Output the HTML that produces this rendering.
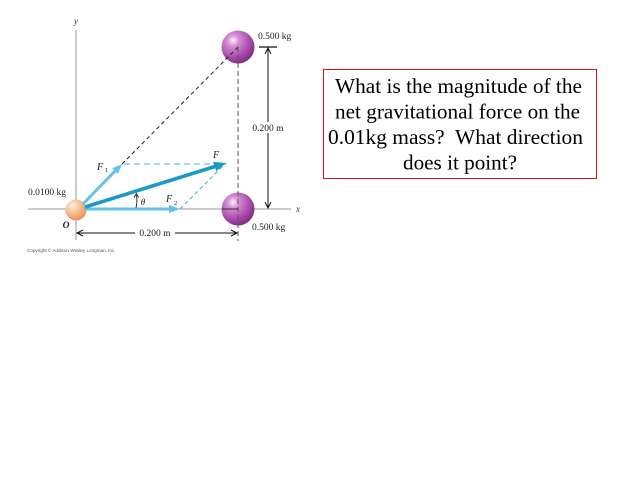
<!DOCTYPE html>
<html><head><meta charset="utf-8"><style>
html,body{margin:0;padding:0;background:#fff;}
svg{display:block;}
</style></head><body>
<svg width="640" height="480" viewBox="0 0 640 480" xmlns="http://www.w3.org/2000/svg">
<defs>
<radialGradient id="pur" cx="0.35" cy="0.3" r="0.75">
<stop offset="0" stop-color="#fbeefa"/>
<stop offset="0.25" stop-color="#d58ad4"/>
<stop offset="0.7" stop-color="#a448a6"/>
<stop offset="1" stop-color="#7d2a80"/>
</radialGradient>
<radialGradient id="org" cx="0.35" cy="0.3" r="0.75">
<stop offset="0" stop-color="#fff3e8"/>
<stop offset="0.35" stop-color="#fbc9a2"/>
<stop offset="1" stop-color="#e88f56"/>
</radialGradient>
</defs>
<rect width="640" height="480" fill="#fff"/>

<!-- axes -->
<line x1="76" y1="30" x2="76" y2="240" stroke="#999" stroke-width="1"/>
<line x1="28" y1="209" x2="291" y2="209" stroke="#999" stroke-width="1"/>
<text x="76" y="24" font-family="Liberation Serif, serif" font-style="italic" font-size="9" fill="#333" text-anchor="middle">y</text>
<text x="298" y="212" font-family="Liberation Serif, serif" font-style="italic" font-size="9" fill="#333" text-anchor="middle">x</text>

<!-- purple balls -->
<circle cx="238" cy="47" r="16.5" fill="url(#pur)"/>
<circle cx="238" cy="209" r="16.5" fill="url(#pur)"/>

<!-- black dashed lines -->
<line x1="122" y1="164" x2="238" y2="47" stroke="#222" stroke-width="1" stroke-dasharray="4,3"/>
<line x1="238" y1="47" x2="238" y2="241" stroke="#555" stroke-width="1" stroke-dasharray="5,3"/>
<line x1="222" y1="209" x2="238" y2="209" stroke="#333" stroke-width="1"/>

<!-- light blue dashed -->
<line x1="124" y1="164" x2="226" y2="164" stroke="#6cc3e3" stroke-width="1.2" stroke-dasharray="6,4"/>
<line x1="180" y1="209" x2="226" y2="163" stroke="#3aaed8" stroke-width="1" stroke-dasharray="4,3"/>

<!-- vertical dimension -->
<line x1="259" y1="47" x2="277" y2="47" stroke="#111" stroke-width="1.3"/>
<line x1="268" y1="48" x2="268" y2="208" stroke="#111" stroke-width="1"/>
<polyline points="265,54 268,48 271,54" fill="none" stroke="#111" stroke-width="1"/>
<polyline points="265,202 268,208 271,202" fill="none" stroke="#111" stroke-width="1"/>
<rect x="250" y="122" width="36" height="11" fill="#fff"/>
<text x="268" y="131" font-family="Liberation Serif, serif" font-size="9.5" fill="#222" text-anchor="middle">0.200 m</text>

<!-- horizontal dimension -->
<line x1="77" y1="233" x2="237" y2="233" stroke="#111" stroke-width="1"/>
<polyline points="83,230 77,233 83,236" fill="none" stroke="#111" stroke-width="1"/>
<polyline points="231,230 237,233 231,236" fill="none" stroke="#111" stroke-width="1"/>
<rect x="135" y="227" width="40" height="11" fill="#fff"/>
<text x="155" y="236" font-family="Liberation Serif, serif" font-size="9.5" fill="#222" text-anchor="middle">0.200 m</text>

<!-- orange ball -->
<circle cx="76" cy="210" r="10.5" fill="url(#org)"/>

<!-- F2 -->
<line x1="85" y1="209" x2="171" y2="209" stroke="#66c2e4" stroke-width="3"/>
<polygon points="180,209 169,205 169,213" fill="#66c2e4"/>
<!-- F1 -->
<line x1="83" y1="204" x2="116" y2="170" stroke="#66c2e4" stroke-width="3"/>
<polygon points="122,164 117.9,174 112.1,168.4" fill="#66c2e4"/>
<!-- F -->
<line x1="85" y1="207" x2="215" y2="166.5" stroke="#1b9ac8" stroke-width="3.6"/>
<polygon points="226,163 216.3,171.2 213,161.9" fill="#1b9ac8"/>

<!-- theta arc -->
<path d="M136,208 Q137.5,201 136.5,195" fill="none" stroke="#222" stroke-width="0.9"/>
<polyline points="134,197.5 136.3,193.5 138.6,197.5" fill="none" stroke="#222" stroke-width="0.9"/>
<text x="143" y="205" font-family="Liberation Serif, serif" font-style="italic" font-size="9" fill="#222" text-anchor="middle">θ</text>

<!-- labels -->
<text x="100" y="170" font-family="Liberation Serif, serif" font-style="italic" font-size="10" fill="#222" text-anchor="middle">F</text>
<text x="105" y="172" font-family="Liberation Serif, serif" font-size="6.5" fill="#222">1</text>
<text x="216" y="158" font-family="Liberation Serif, serif" font-style="italic" font-size="10" fill="#222" text-anchor="middle">F</text>
<text x="169" y="202" font-family="Liberation Serif, serif" font-style="italic" font-size="10" fill="#222" text-anchor="middle">F</text>
<text x="174" y="205" font-family="Liberation Serif, serif" font-size="6.5" fill="#222">2</text>
<text x="258" y="39" font-family="Liberation Serif, serif" font-size="9.5" fill="#222">0.500 kg</text>
<text x="252" y="230" font-family="Liberation Serif, serif" font-size="9.5" fill="#222">0.500 kg</text>
<text x="28" y="195" font-family="Liberation Serif, serif" font-size="9.5" fill="#222">0.0100 kg</text>
<text x="66" y="228" font-family="Liberation Serif, serif" font-style="italic" font-weight="bold" font-size="9.5" fill="#222" text-anchor="middle">O</text>
<text x="27" y="252" font-family="Liberation Sans, sans-serif" font-size="4.6" fill="#555">Copyright © Addison Wesley Longman, Inc.</text>

<!-- question box -->
<rect x="323.5" y="69.5" width="273" height="109" fill="#fff" stroke="#e01010" stroke-width="1"/>
<g font-family="Liberation Serif, serif" font-size="21" fill="#000">
<text x="335" y="93" textLength="247" lengthAdjust="spacingAndGlyphs">What is the magnitude of the</text>
<text x="335" y="118.5" textLength="245" lengthAdjust="spacingAndGlyphs">net gravitational force on the</text>
<text x="328" y="144" textLength="255" lengthAdjust="spacingAndGlyphs">0.01kg mass?&#160; What direction</text>
<text x="403" y="169.5" textLength="114" lengthAdjust="spacingAndGlyphs">does it point?</text>
</g>
</svg>
</body></html>
